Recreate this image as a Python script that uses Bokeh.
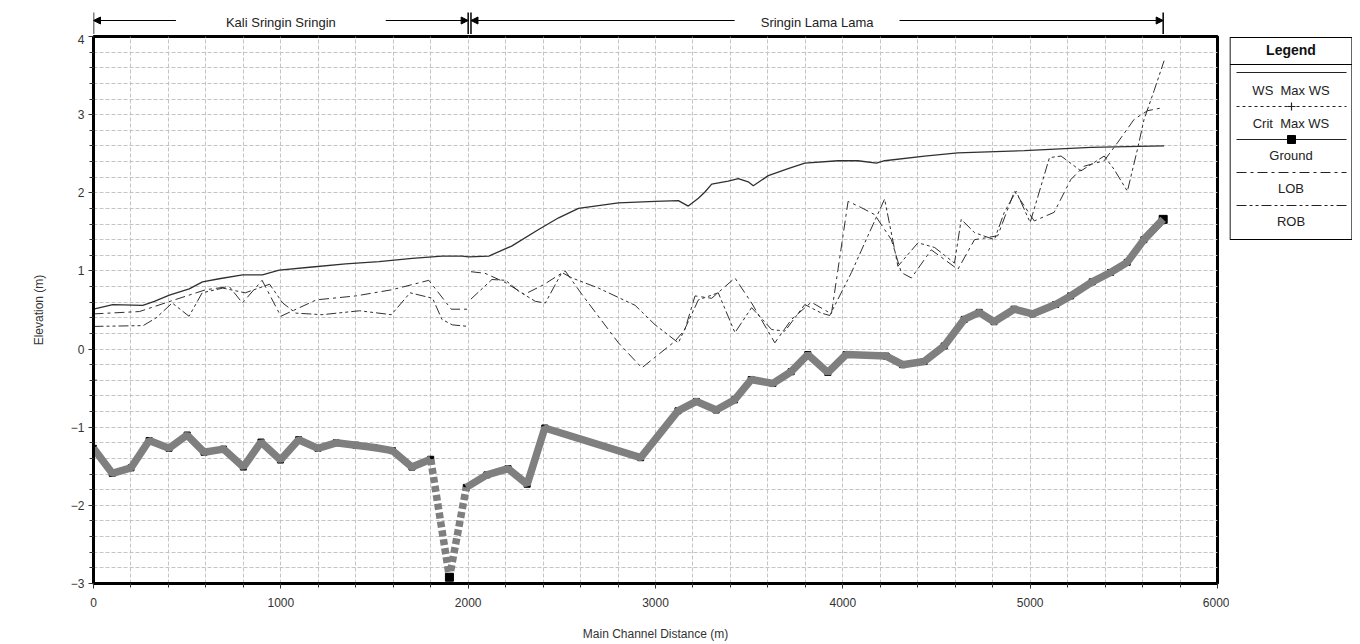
import numpy as np
from bokeh.plotting import figure
from bokeh.models import Range1d, SingleIntervalTicker, Arrow, NormalHead
from bokeh.layouts import column, row
from bokeh.embed import file_html
from bokeh.resources import INLINE
from bokeh.core.properties import value

# ---------------- data ----------------
reach_names = ["Kali Sringin Sringin", "Sringin Lama Lama"]
reach_start = [0, 2015]
reach_end = [2000, 5710]

ground_x = [0, 100, 200, 297, 403, 500, 590, 694, 800, 894, 998, 1095, 1198, 1295, 1401, 1498,
            1596, 1700, 1800, 1900, 1990, 2100, 2213, 2315, 2409, 2921, 3120, 3218, 3324, 3422,
            3511, 3627, 3724, 3813, 3920, 4018, 4231, 4319, 4434, 4541, 4648, 4728, 4807, 4914,
            5012, 5136, 5216, 5331, 5429, 5518, 5607, 5710]
ground_y = [-1.27, -1.59, -1.52, -1.17, -1.27, -1.10, -1.32, -1.28, -1.51, -1.19, -1.42, -1.16,
            -1.27, -1.20, -1.23, -1.26, -1.30, -1.51, -1.41, -2.92, -1.77, -1.61, -1.53, -1.73,
            -1.01, -1.39, -0.79, -0.67, -0.78, -0.65, -0.39, -0.44, -0.29, -0.07, -0.30, -0.07,
            -0.09, -0.20, -0.16, 0.04, 0.38, 0.47, 0.35, 0.51, 0.45, 0.57, 0.68, 0.86, 0.98,
            1.11, 1.40, 1.66]

ws_x = [0, 103, 263, 325, 405, 511, 582, 671, 796, 902, 991, 1168, 1346, 1524, 1701, 1861, 1967,
        2003, 2110, 2234, 2376, 2483, 2589, 2802, 2998, 3122, 3175, 3229, 3264, 3300, 3388, 3442,
        3495, 3522, 3602, 3708, 3797, 3974, 4081, 4179, 4223, 4436, 4614, 4969, 5324, 5715]
ws_y = [0.51, 0.57, 0.56, 0.61, 0.69, 0.77, 0.86, 0.90, 0.95, 0.95, 1.01, 1.05, 1.09, 1.12, 1.16,
        1.19, 1.19, 1.18, 1.19, 1.32, 1.53, 1.68, 1.80, 1.87, 1.89, 1.90, 1.83, 1.93, 2.01, 2.11,
        2.15, 2.18, 2.14, 2.09, 2.22, 2.31, 2.38, 2.41, 2.41, 2.38, 2.41, 2.47, 2.51, 2.54, 2.58,
        2.60]

crit_x = [0]
crit_y = [-0.40]

lob1_x = [0, 245, 420, 600, 725, 795, 900, 1000, 1190, 1400, 1595, 1790, 1910, 2000]
lob1_y = [0.45, 0.48, 0.62, 0.76, 0.80, 0.59, 0.88, 0.42, 0.63, 0.68, 0.76, 0.88, 0.51, 0.51]
lob2_x = [2015, 2090, 2200, 2300, 2400, 2518, 2607, 2802, 2927, 3104, 3157, 3211, 3300, 3424,
          3513, 3637, 3726, 3832, 3939, 4028, 4099, 4170, 4259, 4312, 4366, 4472, 4614, 4703,
          4827, 4916, 5022, 5128, 5217, 5288, 5395, 5466, 5555, 5626, 5710]
lob2_y = [0.99, 0.97, 0.85, 0.70, 0.82, 1.00, 0.70, 0.08, -0.24, 0.10, 0.25, 0.68, 0.65, 0.91,
          0.59, 0.08, 0.38, 0.60, 0.45, 1.89, 1.81, 1.72, 1.40, 0.98, 0.91, 1.27, 1.02, 1.40,
          1.45, 2.02, 1.64, 1.75, 2.17, 2.34, 2.41, 2.64, 2.94, 3.05, 3.09]

rob1_x = [0, 265, 335, 420, 510, 580, 690, 810, 940, 1010, 1080, 1220, 1420, 1590, 1690, 1810,
          1860, 1915, 2000]
rob1_y = [0.29, 0.30, 0.40, 0.59, 0.42, 0.72, 0.78, 0.72, 0.83, 0.59, 0.46, 0.44, 0.49, 0.44,
          0.72, 0.65, 0.38, 0.31, 0.29]
rob2_x = [2015, 2127, 2200, 2270, 2359, 2412, 2500, 2554, 2696, 2891, 2998, 3122, 3229, 3335,
          3424, 3513, 3620, 3691, 3797, 3886, 3930, 4046, 4134, 4223, 4294, 4401, 4490, 4596,
          4632, 4703, 4809, 4862, 4925, 5000, 5103, 5165, 5271, 5395, 5448, 5519, 5573, 5608,
          5662, 5715]
rob2_y = [0.64, 0.89, 0.88, 0.74, 0.61, 0.59, 0.98, 0.91, 0.78, 0.56, 0.31, 0.08, 0.63, 0.72,
          0.21, 0.53, 0.25, 0.23, 0.57, 0.46, 0.43, 0.98, 1.45, 1.92, 1.06, 1.36, 1.30, 1.10,
          1.66, 1.49, 1.40, 1.75, 2.02, 1.62, 2.45, 2.47, 2.28, 2.47, 2.30, 2.02, 2.56, 2.94,
          3.31, 3.69]

legend_labels = ["WS\u00a0 Max WS", "Crit\u00a0 Max WS", "Ground", "LOB", "ROB"]

FONT = value("Liberation Sans")
GRID = "#c4c4c4"
LINE = "#303030"
GROUND = "#7f7f7f"
LOB_DASH = "10 4 3 4"
ROB_DASH = "10 3 3 3 3 3"
LEFT = 93
FRAME_W = 1124
RIGHT = 12

# ---------------- main figure ----------------
p = figure(frame_width=FRAME_W, frame_height=547, x_range=Range1d(0, 6000), y_range=Range1d(-3, 4),
           min_border_left=LEFT, min_border_right=RIGHT, min_border_top=2, min_border_bottom=50,
           toolbar_location=None, output_backend="svg")
p.background_fill_color = "white"
p.border_fill_color = "white"
p.outline_line_color = "black"
p.outline_line_width = 3

p.xaxis.ticker = SingleIntervalTicker(interval=1000, num_minor_ticks=5)
p.yaxis.ticker = SingleIntervalTicker(interval=1, num_minor_ticks=5)
p.xgrid.ticker = SingleIntervalTicker(interval=200)
p.ygrid.ticker = SingleIntervalTicker(interval=0.2)
for g in (p.xgrid, p.ygrid):
    g.grid_line_color = GRID
    g.grid_line_dash = "4 2"
    g.grid_line_width = 1

for ax in (p.xaxis, p.yaxis):
    ax.axis_line_width = 3
    ax.axis_line_color = "black"
    ax.major_tick_out = 5
    ax.major_tick_in = 0
    ax.minor_tick_out = 4
    ax.minor_tick_in = 0
    ax.major_tick_line_color = "#333333"
    ax.minor_tick_line_color = "#333333"
    ax.major_label_text_font = "Liberation Sans"
    ax.major_label_text_font_size = "12px"
    ax.major_label_text_color = "#333333"
    ax.axis_label_text_font = "Liberation Sans"
    ax.axis_label_text_font_size = "12px"
    ax.axis_label_text_font_style = "normal"
    ax.axis_label_text_color = "#333333"

p.xaxis.axis_label = "Main Channel Distance (m)"
p.yaxis.axis_label = "Elevation (m)"
p.xaxis.major_label_standoff = 9
p.xaxis.axis_label_standoff = 17
p.yaxis.major_label_standoff = 4
p.yaxis.axis_label_standoff = 22

nan = [float("nan")]
lob_x = lob1_x + nan + lob2_x
lob_y = lob1_y + nan + lob2_y
rob_x = rob1_x + nan + rob2_x
rob_y = rob1_y + nan + rob2_y

p.line(rob_x, rob_y, line_color=LINE, line_width=1, line_dash=ROB_DASH)
p.line(lob_x, lob_y, line_color=LINE, line_width=1, line_dash=LOB_DASH)
p.line(ws_x, ws_y, line_color=LINE, line_width=1.3)
p.scatter(crit_x, crit_y, marker="cross", size=7, line_color="#777777", line_width=1.5)

gx = np.array(ground_x, dtype=float)
gy = np.array(ground_y, dtype=float)
k = int(np.argmin(gy))
p.scatter(gx, gy, marker="square", size=6, color="black")
p.line(gx[:k], gy[:k], line_color=GROUND, line_width=7.5)
p.line(gx[k - 1:k + 2], gy[k - 1:k + 2], line_color=GROUND, line_width=7.5, line_dash="6 3")
p.line(gx[k + 1:], gy[k + 1:], line_color=GROUND, line_width=7.5)
p.scatter(gx[[k, -1]], gy[[k, -1]], marker="square", size=8, color="black")
p.line(gx[-2:], gy[-2:], line_color=GROUND, line_width=7.5)

# ---------------- reach header ----------------
top = figure(frame_width=FRAME_W, frame_height=34, x_range=p.x_range, y_range=Range1d(0, 34),
             min_border_left=LEFT, min_border_right=RIGHT, min_border_top=0, min_border_bottom=0,
             x_axis_location=None, y_axis_location=None,
             toolbar_location=None, output_backend="svg")
top.grid.visible = False
top.outline_line_color = None
top.background_fill_color = "white"
top.border_fill_color = "white"

line_y = 14
gaps = [560, 440]
for name, s, e, gap in zip(reach_names, reach_start, reach_end, gaps):
    mid = (s + e) / 2
    top.segment(x0=[s, e], y0=[0, 0], x1=[s, e], y1=[22, 22], line_color="black", line_width=1.5)
    top.add_layout(Arrow(end=NormalHead(size=7, fill_color="black", line_color="black"),
                         x_start=mid - gap, y_start=line_y, x_end=s, y_end=line_y,
                         line_color="black", line_width=1))
    top.add_layout(Arrow(end=NormalHead(size=7, fill_color="black", line_color="black"),
                         x_start=mid + gap, y_start=line_y, x_end=e, y_end=line_y,
                         line_color="black", line_width=1))
    top.text(x=[mid], y=[12], text=[name], text_align="center", text_baseline="middle",
             text_font=FONT, text_font_size="13px", text_color="#222222")

# ---------------- legend box ----------------
leg = figure(frame_width=123, frame_height=210, x_range=Range1d(0, 123), y_range=Range1d(210, 0),
             min_border=0, x_axis_location=None, y_axis_location=None,
             toolbar_location=None, output_backend="svg")
leg.grid.visible = False
leg.outline_line_color = None
leg.background_fill_color = "white"
leg.border_fill_color = "white"
leg.quad(left=[0.5], right=[122.5], top=[1], bottom=[203], fill_color="white",
         line_color="black", line_width=1.2)
leg.segment(x0=[0.5], y0=[28], x1=[122.5], y1=[28], line_color="black", line_width=1.2)
leg.text(x=[61.5], y=[13], text=["Legend"], text_align="center", text_baseline="middle",
         text_font=FONT, text_font_size="14px", text_font_style="bold", text_color="#111111")

sample_y = [36, 70, 103, 136, 169]
label_y = [54, 87, 119, 152, 185]
dashes = ["solid", "3 3", "solid", LOB_DASH, ROB_DASH]
for yy, dash in zip(sample_y, dashes):
    leg.line([7, 117], [yy, yy], line_color="#222222", line_width=1.2, line_dash=dash)
leg.scatter([62], [sample_y[1]], marker="cross", size=8, line_color="#222222", line_width=1.2)
leg.scatter([62], [sample_y[2]], marker="square", size=8, color="black")
leg.text(x=[61.5] * len(legend_labels), y=label_y, text=legend_labels, text_align="center",
         text_baseline="middle", text_font=FONT, text_font_size="13px", text_color="#222222")

layout = column(top, row(p, leg))
open("out.html", "w").write(file_html(layout, INLINE))
